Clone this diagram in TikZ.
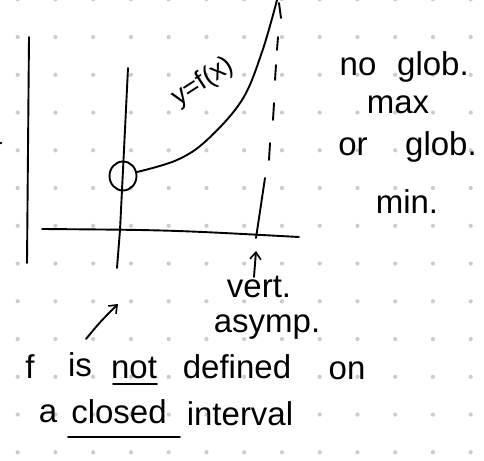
\documentclass[tikz,border=0pt]{standalone}
\usepackage{fontspec}
\setmainfont{Liberation Sans}
\usetikzlibrary{arrows.meta,shapes.geometric}
\begin{document}
\begin{tikzpicture}[x=1pt,y=-1pt,
  ink/.style={line width=1.9pt,line cap=round,line join=round,black},
  hand/.style={inner sep=0pt,anchor=base,font=\fontsize{33}{33}\selectfont},
  barb/.style={-{Straight Barb[length=7pt,width=11pt,line width=1.6pt]}}]
\fill[white] (0,0) rectangle (484,460);
\useasboundingbox (0,0) rectangle (484,460);
% dot grid
\foreach \i in {0,...,12}{
  \foreach \j in {0,...,12}{
    \fill[black!20] ({17.7+37.75*\i},{-0.7+37.75*\j}) circle (2.1);
  }
}
% left edge mark
\fill (1,143) circle (1.4);
% left vertical line
\coordinate (lt) at (29,37);
\coordinate (lb) at (27,263);
\draw[ink] (lt) -- (lb);
% axes
\coordinate (yt) at (128,68);
\coordinate (ym) at (120,230);
\coordinate (yb) at (117,268);
\draw[ink] (yt) .. controls (124,150) .. (ym) -- (yb);
\coordinate (xl) at (42,229);
\coordinate (xr) at (299,237);
\draw[ink] (xl) .. controls (170,230) .. (xr);
% open circle
\node[ink,draw,ellipse,minimum width=27pt,minimum height=29pt,inner sep=0pt] (hole) at (123,176) {};
% curve
\draw[ink] plot[smooth,tension=0.6] coordinates {(137,172) (177,160) (207,140) (242,100) (262,52) (277,0)};
\node[inner sep=0pt,font=\fontsize{27}{27}\selectfont,rotate=33] (lbl) at (203,82) {y=f(x)};
% asymptote
\draw[ink] (279,3) -- (281,18);
\draw[ink] (278,37) -- (277,50);
\draw[ink] (276,65) -- (275,80);
\draw[ink] (274,103) -- (273,120);
\draw[ink] (270,143) -- (269,160);
\draw[ink] (265,178) -- (256,238);
% arrow to asymptote
\coordinate (a1s) at (254,277);
\coordinate (a1e) at (256,251);
\draw[ink,barb] (a1s) -- (a1e);
\node[hand] (vert) at (259,297) {vert.};
\node[hand] (asym) at (267,332) {asymp.};
% right text
\node[hand] (t1a) at (358,75) {no};
\node[hand] (t1b) at (433,75) {glob.};
\node[hand] (t2) at (398,113) {max};
\node[hand] (t3a) at (353,155) {or};
\node[hand] (t3b) at (441,155) {glob.};
\node[hand] (t4) at (407,213) {min.};
% lower arrow
\coordinate (a2s) at (86,339);
\coordinate (a2e) at (118,304);
\draw[ink,barb] (a2s) .. controls (100,322) .. (a2e);
% bottom text
\node[hand] (w1) at (30,378) {f};
\node[hand] (w2) at (80,376) {is};
\node[hand] (w3) at (134,378) {not};
\node[hand] (w4) at (237,378) {defined};
\node[hand] (w5) at (347,379) {on};
\draw[ink] (113,384) -- (157,384);
\node[hand] (v1) at (48,422) {a};
\node[hand] (v2) at (119,423) {closed};
\node[hand] (v3) at (240,425) {interval};
\draw[ink] (68,437) -- (180,437);
\end{tikzpicture}
\end{document}
